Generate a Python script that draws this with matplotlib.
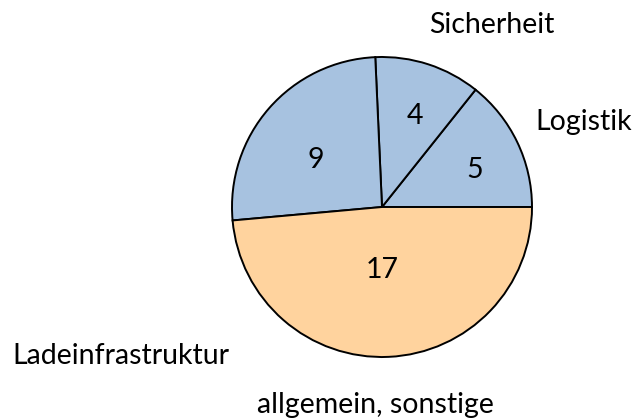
import matplotlib.pyplot as plt

labels = ['Logistik', 'Sicherheit', 'Ladeinfrastruktur', 'allgemein, sonstige']
values = [5, 4, 9, 17]
colors = ['#a7c2e0', '#a7c2e0', '#a7c2e0', '#ffd39e']

# where the names and numbers sit (pie radius = 1)
label_pos = [(1.345, 0.565), (0.73, 1.215), (-1.74, -0.995), (-0.047, -1.32)]
value_pos = [(0.62, 0.245), (0.22, 0.61), (-0.44, 0.31), (0.0, -0.42)]

plt.rcParams['font.family'] = ['Lato', 'DejaVu Sans']

fig = plt.figure(figsize=(6.37, 4.19), dpi=100)
ax = fig.add_axes([0, 0, 1, 1])

ax.pie(values, colors=colors, startangle=0, counterclock=True,
       wedgeprops=dict(edgecolor='black', linewidth=1.4))

for (x, y), t in zip(label_pos, labels):
    ax.text(x, y, t, ha='center', va='center', fontsize=20.5, color='black')
for (x, y), v in zip(value_pos, values):
    ax.text(x, y, str(v), ha='center', va='center', fontsize=20.5, color='black')

ax.set_xlim(-382 / 150, (637 - 382) / 150)
ax.set_ylim(-(419 - 207) / 150, 207 / 150)
ax.set_aspect('auto')
ax.axis('off')

fig.savefig('out.png', dpi=100)
